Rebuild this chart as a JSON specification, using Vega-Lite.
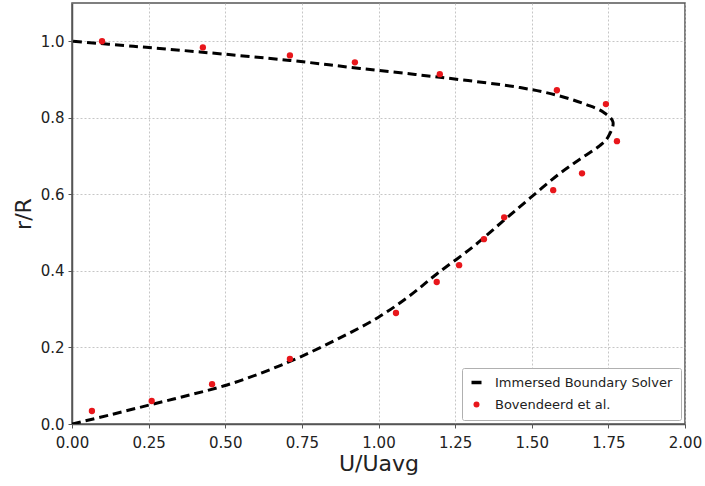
{
  "$schema": "https://vega.github.io/schema/vega-lite/v6.json",
  "width": 613,
  "height": 421,
  "autosize": "none",
  "padding": {"left": 72, "top": 3, "right": 20, "bottom": 62},
  "background": "white",
  "config": {
    "font": "DejaVu Sans",
    "view": {"stroke": "#555", "strokeWidth": 1.5},
    "axis": {
      "labelFont": "DejaVu Sans", "titleFont": "DejaVu Sans", "labelFlush": false,
      "labelFontSize": 15, "labelColor": "#222", "titleFontSize": 22, "titleColor": "#222", "titleFontWeight": "normal",
      "gridColor": "#b8b8b8", "gridDash": [2, 2], "gridWidth": 0.8,
      "domainColor": "#555", "domainWidth": 1.5, "tickColor": "#555", "tickSize": 4
    }
  },
  "datasets": {
    "curve": [
      {"i": 0, "u": 0.0, "r": 0.0},
      {"i": 1, "u": 0.125, "r": 0.024},
      {"i": 2, "u": 0.254, "r": 0.05},
      {"i": 3, "u": 0.38, "r": 0.075},
      {"i": 4, "u": 0.506, "r": 0.102},
      {"i": 5, "u": 0.63, "r": 0.137},
      {"i": 6, "u": 0.744, "r": 0.175},
      {"i": 7, "u": 0.874, "r": 0.225},
      {"i": 8, "u": 1.0, "r": 0.279},
      {"i": 9, "u": 1.1, "r": 0.334},
      {"i": 10, "u": 1.19, "r": 0.392},
      {"i": 11, "u": 1.31, "r": 0.464},
      {"i": 12, "u": 1.406, "r": 0.53},
      {"i": 13, "u": 1.494, "r": 0.59},
      {"i": 14, "u": 1.592, "r": 0.655},
      {"i": 15, "u": 1.657, "r": 0.692},
      {"i": 16, "u": 1.723, "r": 0.728},
      {"i": 17, "u": 1.749, "r": 0.75},
      {"i": 18, "u": 1.765, "r": 0.789},
      {"i": 19, "u": 1.733, "r": 0.815},
      {"i": 20, "u": 1.68, "r": 0.834},
      {"i": 21, "u": 1.582, "r": 0.859},
      {"i": 22, "u": 1.462, "r": 0.879},
      {"i": 23, "u": 1.2, "r": 0.906},
      {"i": 24, "u": 0.94, "r": 0.929},
      {"i": 25, "u": 0.711, "r": 0.95},
      {"i": 26, "u": 0.418, "r": 0.972},
      {"i": 27, "u": 0.2, "r": 0.987},
      {"i": 28, "u": 0.0, "r": 1.0}
    ],
    "points": [
      {"u": 0.065, "r": 0.034},
      {"u": 0.26, "r": 0.06},
      {"u": 0.457, "r": 0.104},
      {"u": 0.711, "r": 0.17},
      {"u": 1.057, "r": 0.29},
      {"u": 1.19, "r": 0.371},
      {"u": 1.263, "r": 0.415},
      {"u": 1.344, "r": 0.483},
      {"u": 1.41, "r": 0.54},
      {"u": 1.57, "r": 0.611},
      {"u": 1.664, "r": 0.655},
      {"u": 1.778, "r": 0.739},
      {"u": 1.742, "r": 0.836},
      {"u": 1.582, "r": 0.872},
      {"u": 1.2, "r": 0.914},
      {"u": 0.923, "r": 0.945},
      {"u": 0.711, "r": 0.963},
      {"u": 0.427, "r": 0.984},
      {"u": 0.098, "r": 1.0}
    ]
  },
  "layer": [
    {
      "data": {"name": "curve"},
      "transform": [{"calculate": "'Immersed Boundary Solver'", "as": "series"}],
      "mark": {"type": "line", "strokeWidth": 3, "strokeDash": [9, 5], "interpolate": "catmull-rom", "clip": true},
      "encoding": {
        "x": {"field": "u", "type": "quantitative", "scale": {"domain": [0, 2], "nice": false}, "axis": {"title": "U/Uavg", "values": [0, 0.25, 0.5, 0.75, 1, 1.25, 1.5, 1.75, 2], "format": ".2f", "labelPadding": 7, "titlePadding": 3}},
        "y": {"field": "r", "type": "quantitative", "scale": {"domain": [0, 1.1], "nice": false}, "axis": {"title": "r/R", "values": [0, 0.2, 0.4, 0.6, 0.8, 1.0], "format": ".1f", "labelPadding": 4, "titlePadding": 5}},
        "order": {"field": "i", "type": "quantitative"},
        "color": {
          "field": "series", "type": "nominal",
          "scale": {"domain": ["Immersed Boundary Solver", "Bovendeerd et al."], "range": ["black", "#e8161b"]},
          "legend": {
            "title": null, "orient": "bottom-right", "offset": 4,
            "fillColor": "white", "strokeColor": "#b0b0b0", "padding": 8, "cornerRadius": 2,
            "labelFontSize": 13, "labelColor": "#222", "labelFont": "DejaVu Sans", "labelLimit": 0, "rowPadding": 8,
            "labelOffset": 12,
            "symbolSize": 100,
            "encode": {
              "symbols": {"update": {
                "shape": {"signal": "datum.value === 'Immersed Boundary Solver' ? 'stroke' : 'circle'"},
                "strokeWidth": {"signal": "datum.value === 'Immersed Boundary Solver' ? 3.5 : 0"},
                "size": {"signal": "datum.value === 'Immersed Boundary Solver' ? 100 : 36"},
                "strokeDash": {"value": []}
              }}
            }
          }
        }
      }
    },
    {
      "data": {"name": "points"},
      "transform": [{"calculate": "'Bovendeerd et al.'", "as": "series"}],
      "mark": {"type": "point", "filled": true, "size": 40, "opacity": 1},
      "encoding": {
        "x": {"field": "u", "type": "quantitative"},
        "y": {"field": "r", "type": "quantitative"},
        "color": {"field": "series", "type": "nominal"}
      }
    }
  ]
}
